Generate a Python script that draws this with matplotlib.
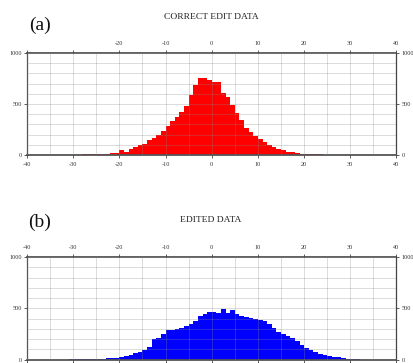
import matplotlib
matplotlib.use('Agg')
import matplotlib.pyplot as plt
from matplotlib.ticker import MultipleLocator, FixedLocator

plt.rcParams['axes.unicode_minus'] = False
plt.rcParams['font.family'] = ['Liberation Serif', 'DejaVu Serif']

# bin left edges (width 1) from -40 to 39
bin_left = list(range(-40, 40))

correct_counts = [
    0, 0, 0, 0, 0, 0, 0, 1, 1, 2,            # -40..-31
    3, 4, 5, 6, 7, 8, 10, 12, 18, 22,        # -30..-21
    48, 32, 62, 78, 98, 112, 145, 168, 192, 238,   # -20..-11
    285, 330, 370, 420, 480, 590, 690, 752, 752, 735,  # -10..-1
    712, 712, 605, 565, 490, 408, 343, 261, 229, 190,  # 0..9
    160, 131, 100, 74, 57, 45, 33, 25, 17, 13,   # 10..19
    10, 8, 6, 5, 4, 3, 2, 2, 1, 1,              # 20..29
    0, 0, 0, 0, 0, 0, 0, 0, 0, 0,               # 30..39
]

edited_counts = [
    0, 0, 0, 0, 0, 0, 0, 0, 0, 1,            # -40..-31
    1, 1, 2, 3, 4, 6, 8, 10, 15, 18,         # -30..-21
    22, 33, 46, 65, 78, 92, 118, 200, 212, 245,    # -20..-11
    290, 292, 300, 312, 330, 350, 380, 420, 442, 462,  # -10..-1
    462, 455, 490, 455, 487, 440, 425, 412, 405, 398,  # 0..9
    388, 378, 349, 308, 271, 244, 227, 205, 180, 140,  # 10..19
    115, 95, 74, 56, 42, 34, 27, 20, 12, 6,     # 20..29
    2, 1, 0, 0, 0, 0, 0, 0, 0, 0,               # 30..39
]

x_ticks = [-40, -30, -20, -10, 0, 10, 20, 30, 40]
y_ticks = [0, 500, 1000]
panels = [
    dict(label='(a)', title='CORRECT EDIT DATA', counts=correct_counts, color='#ff0000',
         rect=[27/414, 1-155/363, 369.5/414, 102/363], top_from=-20, bottom_labels=True,
         label_y=1-25/363, title_y=1-17/363),
    dict(label='(b)', title='EDITED DATA', counts=edited_counts, color='#0000ff',
         rect=[27/414, 1-359.5/363, 369.5/414, 102.5/363], top_from=-40, bottom_labels=False,
         label_y=1-222/363, title_y=1-220/363),
]

fig = plt.figure(figsize=(4.14, 3.63), dpi=100)

for p in panels:
    ax = fig.add_axes(p['rect'])
    ax.bar(bin_left, p['counts'], width=1.0, align='edge', color=p['color'],
           linewidth=0, zorder=1)
    ax.set_xlim(-40, 40)
    ax.set_ylim(0, 1000)
    ax.xaxis.set_major_locator(FixedLocator(x_ticks))
    ax.xaxis.set_minor_locator(MultipleLocator(5))
    ax.yaxis.set_major_locator(FixedLocator(y_ticks))
    ax.yaxis.set_minor_locator(MultipleLocator(100))
    ax.grid(True, which='both', color='#888888', alpha=0.35, linewidth=0.6, zorder=2)
    ax.set_axisbelow(False)
    ax.tick_params(axis='both', which='major', labelsize=4.5, length=2, width=0.6,
                   color='#444444', labelcolor='#333333', direction='out')
    ax.tick_params(axis='x', which='major', pad=3)
    ax.tick_params(axis='y', which='major', pad=1.5)
    ax.tick_params(axis='both', which='minor', length=0)
    ax.tick_params(axis='x', top=True, labeltop=True, bottom=True,
                   labelbottom=p['bottom_labels'])
    ax.tick_params(axis='y', left=True, right=True, labelleft=True, labelright=True)
    ax.set_xticklabels([str(t) for t in x_ticks])
    ax.set_yticklabels([str(t) for t in y_ticks])
    for tk in ax.xaxis.get_major_ticks():
        if tk.get_loc() < p['top_from']:
            tk.label2.set_visible(False)
    for side in ['top', 'bottom']:
        ax.spines[side].set_linewidth(1.3)
        ax.spines[side].set_color('#555555')
    for side in ['left', 'right']:
        ax.spines[side].set_linewidth(0.9)
        ax.spines[side].set_color('#444444')
    fig.text(40/414, p['label_y'], p['label'], fontsize=14, ha='center', va='center',
             color='#111111')
    fig.text(211/414, p['title_y'], p['title'], fontsize=6.8, ha='center', va='center',
             color='#222222')

fig.savefig('out.png', dpi=100)
